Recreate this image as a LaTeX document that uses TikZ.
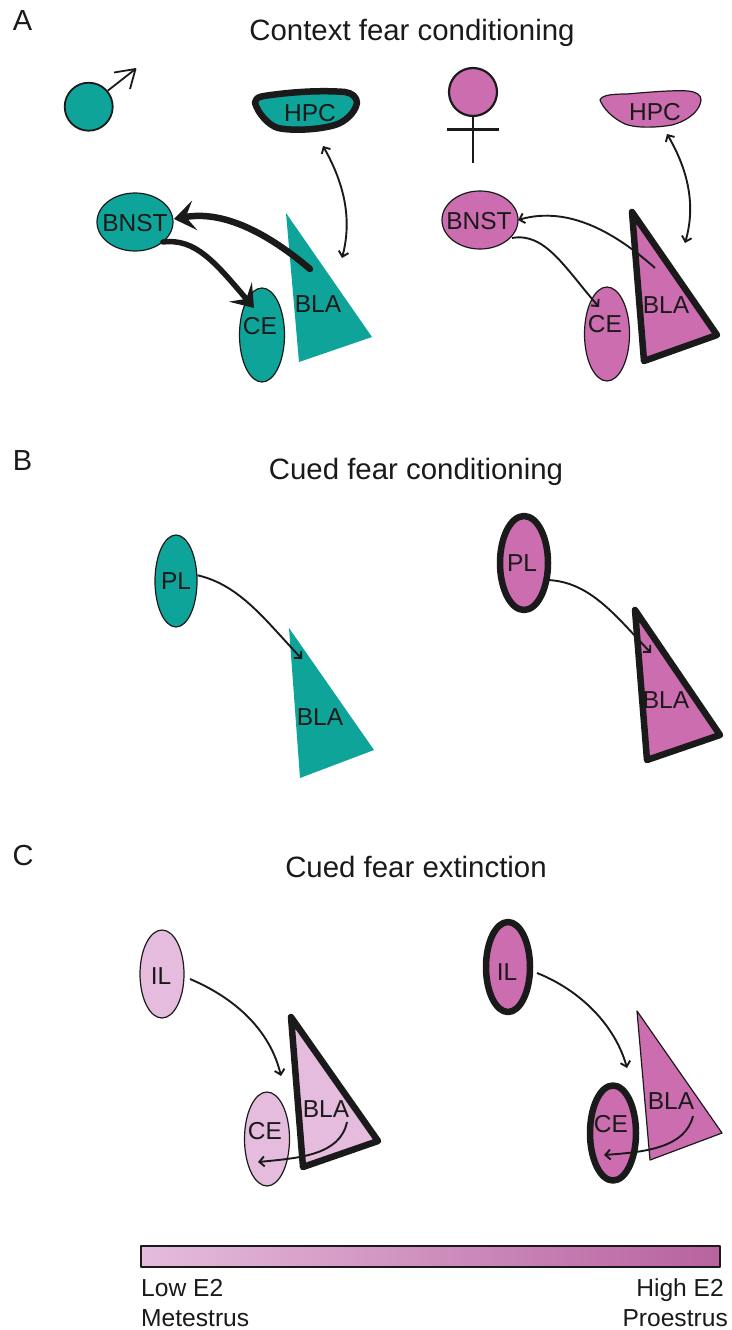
\documentclass[tikz,border=0pt]{standalone}
\usepackage{fontspec}
\setmainfont{Liberation Sans}
\usetikzlibrary{arrows.meta,shapes.geometric}
\definecolor{teal1}{HTML}{0FA49A}
\definecolor{pink1}{HTML}{CC6DB0}
\definecolor{pink2}{HTML}{E5BCDD}
\definecolor{ink}{HTML}{1A1A1A}
\tikzset{
 x=1pt,y=-1pt,
 every path/.append style={line join=round},
 lab/.style={font=\fontsize{24.5}{26}\selectfont,text=ink,inner sep=0pt},
 ttl/.style={font=\fontsize{29.4}{32}\selectfont,text=ink,inner sep=0pt},
 panel/.style={font=\fontsize{29}{32}\selectfont,text=ink,inner sep=0pt},
 captxt/.style={font=\fontsize{24.6}{28}\selectfont,text=ink,inner sep=0pt},
 oval/.style={ellipse,draw=ink,line width=1.2pt,inner sep=0pt,minimum width=#1},
 tall/.style={minimum height=#1},
 thickline/.style={line width=6.5pt,draw=ink},
 thinline/.style={line width=1.2pt,draw=ink},
 conn/.style={line width=1.9pt,draw=ink,-{Straight Barb[length=5pt,width=10pt]}},
 dconn/.style={line width=1.9pt,draw=ink,{Straight Barb[length=5pt,width=10pt]}-{Straight Barb[length=5pt,width=10pt]}},
 heavy/.style={line width=6.5pt,draw=ink,line cap=round,-{Stealth[length=21pt,width=30pt,inset=9pt]}},
}
\begin{document}
\begin{tikzpicture}
\useasboundingbox (0,0) rectangle (731,1330);
% titles
\node[ttl] (tA) at (412,33) {Context fear conditioning};
\node[ttl] (tB) at (416,472) {Cued fear conditioning};
\node[ttl] (tC) at (416,867) {Cued fear extinction};
\node[panel] (lA) at (22.5,21) {A};
\node[panel] (lB) at (22.5,461) {B};
\node[panel] (lC) at (23,856) {C};
% sex symbols
\node[circle,draw=ink,line width=1.8pt,fill=teal1,minimum size=48pt,inner sep=0pt] (male) at (88.7,106.7) {};
\coordinate (mtip) at (135.5,69);
\draw[line width=1.8pt,draw=ink] (male.40) -- (mtip);
\draw[line width=1.8pt,draw=ink] (114,72.5) -- (mtip) -- (130,89);
\node[circle,draw=ink,line width=2.2pt,fill=pink1,minimum size=48pt,inner sep=0pt] (female) at (473,92) {};
\coordinate (fbot) at (473,163);
\coordinate (fl) at (447,129.5);
\coordinate (fr) at (499,129.5);
\draw[line width=2.2pt,draw=ink] (female.south) -- (fbot);
\draw[line width=2.2pt,draw=ink] (fl) -- (fr);
% --- A male
\draw[thickline,fill=teal1] (255,103) .. controls (256,98) and (258,97) .. (264,96) .. controls (290,92) and (320,90) .. (345,92) .. controls (352,93) and (357,97) .. (357,103) .. controls (355,113) and (345,122) .. (335,125) .. controls (318,130) and (292,131) .. (278,128) .. controls (268,125) and (258,113) .. (255,103) -- cycle;
\node[lab] (hpcM) at (310,113) {HPC};
\node[oval=76pt,tall=58pt,fill=teal1] (bnstM) at (135,222) {};
\node[lab] (bnstMt) at (135,223) {BNST};
\coordinate (blaMa) at (286,213); \coordinate (blaMb) at (372,337); \coordinate (blaMc) at (299,362);
\fill[teal1] (blaMa) -- (blaMb) -- (blaMc) -- cycle;
\node[lab] (blaMt) at (318,304) {BLA};
\node[oval=45pt,tall=94pt,fill=teal1] (ceM) at (262,335) {};
\node[lab] (ceMt) at (260,326) {CE};
\coordinate (m1) at (310,269); \coordinate (m2) at (174,219);
\coordinate (m3) at (163,242); \coordinate (m4) at (254,308);
\draw[heavy] (m1) .. controls (270,235) and (225,210) .. (m2);
\draw[heavy,line width=5.5pt] (m3) .. controls (195,238) and (215,262) .. (m4);
\coordinate (m5) at (323,146); \coordinate (m6) at (342,258);
\draw[dconn] (m5) .. controls (345,185) and (352,220) .. (m6);
% --- A female
\draw[thinline,fill=pink1] (600,100) .. controls (602,95) and (612,94) .. (627,94) .. controls (650,92) and (675,90) .. (688,91) .. controls (697,92) and (701,95) .. (701,100) .. controls (700,110) and (690,120) .. (672,125) .. controls (655,128) and (635,128) .. (625,124) .. controls (612,118) and (603,108) .. (600,100) -- cycle;
\node[lab] (hpcF) at (655,112) {HPC};
\node[oval=76pt,tall=58pt,fill=pink1] (bnstF) at (480,220) {};
\node[lab] (bnstFt) at (479,221) {BNST};
\coordinate (blaFa) at (632,212); \coordinate (blaFb) at (717,335); \coordinate (blaFc) at (644,361);
\draw[thickline,fill=pink1] (blaFa) -- (blaFb) -- (blaFc) -- cycle;
\node[lab] (blaFt) at (666,305) {BLA};
\node[oval=45pt,tall=94pt,fill=pink1] (ceF) at (607,334) {};
\node[lab] (ceFt) at (605,324) {CE};
\coordinate (f1) at (655,268); \coordinate (f2) at (518,220);
\coordinate (f3) at (512,238); \coordinate (f4) at (599,307);
\draw[conn] (f1) .. controls (618,235) and (570,205) .. (f2);
\draw[conn] (f3) .. controls (545,232) and (565,268) .. (f4);
\coordinate (f5) at (667,134); \coordinate (f6) at (685,243);
\draw[dconn] (f5) .. controls (688,170) and (696,205) .. (f6);
% --- B male
\node[oval=42pt,tall=92pt,fill=teal1] (plM) at (176,581) {};
\node[lab] (plMt) at (176,581) {PL};
\coordinate (bla2a) at (289,628); \coordinate (bla2b) at (374,750); \coordinate (bla2c) at (300,778);
\fill[teal1] (bla2a) -- (bla2b) -- (bla2c) -- cycle;
\node[lab] (bla2t) at (320,717) {BLA};
\coordinate (b1) at (302,659);
\draw[conn] (plM.15) .. controls (240,585) and (265,620) .. (b1);
% --- B female
\node[oval=48pt,tall=94pt,fill=pink1,line width=6.5pt] (plF) at (524,563) {};
\node[lab] (plFt) at (522,563) {PL};
\coordinate (bla3a) at (635,610); \coordinate (bla3b) at (720,735); \coordinate (bla3c) at (647,760);
\draw[thickline,fill=pink1] (bla3a) -- (bla3b) -- (bla3c) -- cycle;
\node[lab] (bla3t) at (666,700) {BLA};
\coordinate (b2) at (651,653); \coordinate (b3) at (548,580);
\draw[conn] (b3) .. controls (590,582) and (615,615) .. (b2);
% --- C left
\node[oval=44pt,tall=88pt,fill=pink2] (ilL) at (162,974) {};
\node[lab] (ilLt) at (161,976) {IL};
\coordinate (bla4a) at (291,1017); \coordinate (bla4b) at (378,1141); \coordinate (bla4c) at (303,1167);
\draw[thickline,fill=pink2] (bla4a) -- (bla4b) -- (bla4c) -- cycle;
\node[lab] (bla4t) at (326,1109) {BLA};
\node[oval=45pt,tall=94pt,fill=pink2] (ceL) at (267,1139) {};
\node[lab] (ceLt) at (265,1131) {CE};
\coordinate (c1) at (190,979); \coordinate (c2) at (281,1076);
\coordinate (c3) at (347,1122); \coordinate (c4) at (258,1162);
\draw[conn] (c1) .. controls (235,998) and (270,1030) .. (c2);
\draw[conn] (c3) .. controls (340,1155) and (300,1158) .. (c4);
% --- C right
\node[oval=44pt,tall=90pt,fill=pink1,line width=6.5pt] (ilR) at (508,967) {};
\node[lab] (ilRt) at (507,972) {IL};
\coordinate (bla5a) at (637,1011); \coordinate (bla5b) at (722,1133); \coordinate (bla5c) at (650,1160);
\draw[thinline,fill=pink1] (bla5a) -- (bla5b) -- (bla5c) -- cycle;
\node[lab] (bla5t) at (671,1101) {BLA};
\node[oval=46pt,tall=95pt,fill=pink1,line width=6.5pt] (ceR) at (613,1133) {};
\node[lab] (ceRt) at (611,1124) {CE};
\coordinate (c5) at (537,973); \coordinate (c6) at (627,1068);
\coordinate (c7) at (693,1116); \coordinate (c8) at (604,1155);
\draw[conn] (c5) .. controls (580,990) and (615,1025) .. (c6);
\draw[conn] (c7) .. controls (685,1148) and (645,1152) .. (c8);
% --- scale
\node[draw=ink,line width=2pt,left color=pink2,right color=pink1!90!black,minimum width=579pt,minimum height=21pt,inner sep=0pt] (bar) at (430,1256) {};
\node[captxt,anchor=base west] (low) at (141,1296) {Low E2};
\node[captxt,anchor=base west] (met) at (141,1326) {Metestrus};
\node[captxt,anchor=base east] (high) at (724,1296) {High E2};
\node[captxt,anchor=base east] (pro) at (728,1326) {Proestrus};
\end{tikzpicture}
\end{document}
